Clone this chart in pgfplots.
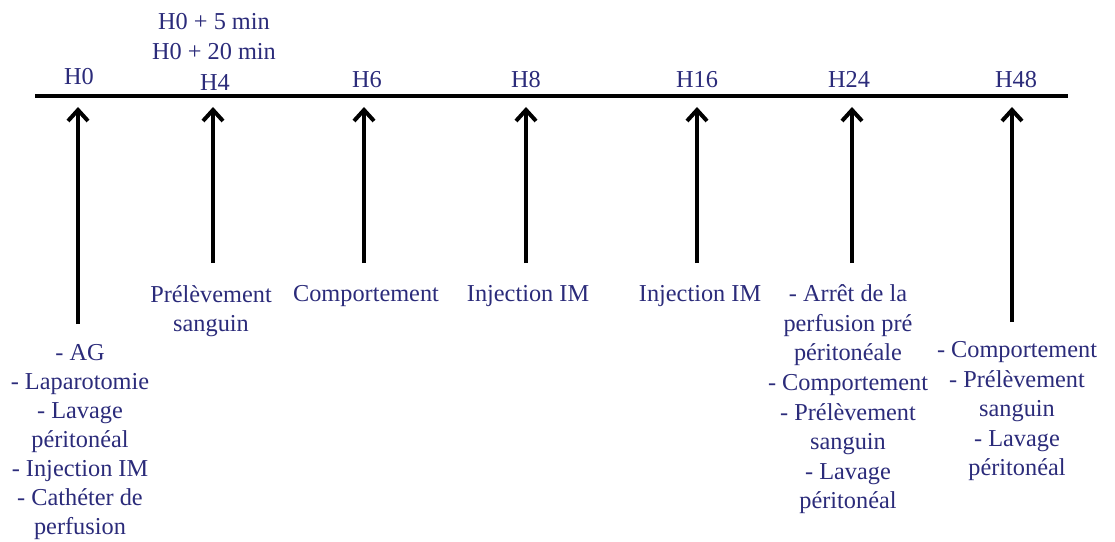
\documentclass[border=0pt]{standalone}
\usepackage{pgfplots}
\pgfplotsset{compat=1.18}
\usepackage{fontspec}
\setmainfont{Liberation Serif}
\usetikzlibrary{arrows.meta}
\definecolor{navy}{RGB}{43,43,122}
\tikzset{lbl/.style={font=\fontsize{12.2}{14}\selectfont, text=navy, inner sep=0pt, anchor=base}}
\begin{document}
\begin{tikzpicture}
\begin{axis}[
  scale only axis, width=557.5bp, height=271bp,
  xmin=0, xmax=1115, ymin=0, ymax=542, y dir=reverse,
  hide axis, clip=false,
]
\path (rel axis cs:0,0) rectangle (rel axis cs:1,1);
% timeline
\addplot[black, line width=2bp] coordinates {(35,96) (1068,96)};
% arrows (x, bottom -> tip)
\addplot[black, line width=2bp, -{Straight Barb[length=5.5bp,width=10bp,line width=2bp]}] coordinates {(78,324) (78,107)};
\addplot[black, line width=2bp, -{Straight Barb[length=5.5bp,width=10bp,line width=2bp]}] coordinates {(213,263) (213,107)};
\addplot[black, line width=2bp, -{Straight Barb[length=5.5bp,width=10bp,line width=2bp]}] coordinates {(364,263) (364,107)};
\addplot[black, line width=2bp, -{Straight Barb[length=5.5bp,width=10bp,line width=2bp]}] coordinates {(526,263) (526,107)};
\addplot[black, line width=2bp, -{Straight Barb[length=5.5bp,width=10bp,line width=2bp]}] coordinates {(697,263) (697,107)};
\addplot[black, line width=2bp, -{Straight Barb[length=5.5bp,width=10bp,line width=2bp]}] coordinates {(852,263) (852,107)};
\addplot[black, line width=2bp, -{Straight Barb[length=5.5bp,width=10bp,line width=2bp]}] coordinates {(1012,322) (1012,107)};
% top labels
\node[lbl] at (axis cs:79,84) {H0};
\node[lbl] at (axis cs:214,30) {H0 + 5 min};
\node[lbl] at (axis cs:214,60) {H0 + 20 min};
\node[lbl] at (axis cs:215,90) {H4};
\node[lbl] at (axis cs:367,87) {H6};
\node[lbl] at (axis cs:526,87) {H8};
\node[lbl] at (axis cs:697,87) {H16};
\node[lbl] at (axis cs:849,87) {H24};
\node[lbl] at (axis cs:1016,87) {H48};
% H0 column
\node[lbl] at (axis cs:80,360) {- AG};
\node[lbl] at (axis cs:80,389) {- Laparotomie};
\node[lbl] at (axis cs:80,418) {- Lavage};
\node[lbl] at (axis cs:80,447) {péritonéal};
\node[lbl] at (axis cs:80,476) {- Injection IM};
\node[lbl] at (axis cs:80,505) {- Cathéter de};
\node[lbl] at (axis cs:80,534) {perfusion};
% H4
\node[lbl] at (axis cs:211,302) {Prélèvement};
\node[lbl] at (axis cs:211,331) {sanguin};
% H6, H8, H16
\node[lbl] at (axis cs:366,301) {Comportement};
\node[lbl] at (axis cs:528,301) {Injection IM};
\node[lbl] at (axis cs:700,301) {Injection IM};
% H24
\node[lbl] at (axis cs:848,301) {- Arrêt de la};
\node[lbl] at (axis cs:848,331) {perfusion pré};
\node[lbl] at (axis cs:848,360) {péritonéale};
\node[lbl] at (axis cs:848,390) {- Comportement};
\node[lbl] at (axis cs:848,420) {- Prélèvement};
\node[lbl] at (axis cs:848,449) {sanguin};
\node[lbl] at (axis cs:848,479) {- Lavage};
\node[lbl] at (axis cs:848,508) {péritonéal};
% H48
\node[lbl] at (axis cs:1017,357) {- Comportement};
\node[lbl] at (axis cs:1017,387) {- Prélèvement};
\node[lbl] at (axis cs:1017,416) {sanguin};
\node[lbl] at (axis cs:1017,446) {- Lavage};
\node[lbl] at (axis cs:1017,475) {péritonéal};
\end{axis}
\end{tikzpicture}
\end{document}
